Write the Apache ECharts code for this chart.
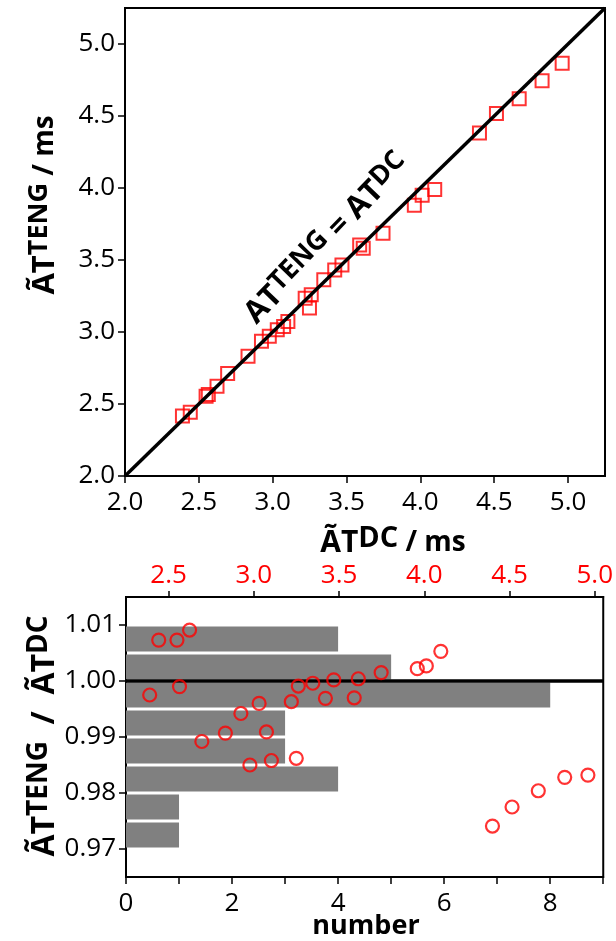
<!DOCTYPE html>
<html>
<head>
<meta charset="utf-8">
<script src="https://cdn.jsdelivr.net/npm/echarts@6/dist/echarts.min.js"></script>
<style>
  html, body { margin: 0; padding: 0; background: #fff; }
  #chart { width: 616px; height: 941px; }
</style>
</head>
<body>
<div id="chart"></div>
<script>
// Decay times from the DC reference measurement (ms)
const dcValues = [2.389, 2.442, 2.549, 2.564, 2.623, 2.695, 2.833, 2.924, 2.977, 3.031,
                  3.074, 3.103, 3.220, 3.249, 3.261, 3.346, 3.420, 3.469, 3.589, 3.613,
                  3.747, 3.959, 4.012, 4.097, 4.400, 4.515, 4.669, 4.824, 4.960];
// Decay times from the TENG measurement (ms)
const tengValues = [2.416, 2.443, 2.554, 2.566, 2.623, 2.711, 2.831, 2.935, 2.970, 3.016,
                    3.039, 3.073, 3.235, 3.166, 3.258, 3.362, 3.430, 3.466, 3.605, 3.582,
                    3.686, 3.880, 3.950, 3.990, 4.382, 4.517, 4.620, 4.745, 4.867];
// Ratio TENG / DC for each sample
const ratioValues = [0.9975, 1.0073, 1.0073, 0.9990, 1.0091, 0.9892, 0.9907, 0.9942, 0.9850, 0.9960,
                     0.9909, 0.9858, 0.9963, 0.9862, 0.9991, 0.9996, 0.9969, 1.0002, 0.9970, 1.0004,
                     1.0015, 1.0022, 1.0027, 1.0053, 0.9741, 0.9775, 0.9804, 0.9828, 0.9832];
// Histogram of the ratio
const binCenters = [1.0075, 1.0025, 0.9975, 0.9925, 0.9875, 0.9825, 0.9775, 0.9725];
const binCounts = [4, 5, 8, 3, 3, 4, 1, 1];
// Identity line ends and unity ratio line
const identityEnds = [2.0, 5.25];
const unityRatio = 1.0;
const unityCountEnds = [0, 9];
// Tick values
const msTicks = [2.0, 2.5, 3.0, 3.5, 4.0, 4.5, 5.0];
const dcTopTicks = [2.5, 3.0, 3.5, 4.0, 4.5, 5.0];
const ratioTicks = [0.97, 0.98, 0.99, 1.00, 1.01];
const countTicks = [0, 1, 2, 3, 4, 5, 6, 7, 8, 9];
const countLabels = [0, 2, 4, 6, 8];
// Position of the identity-line caption (data units)
const captionPoint = [3.37, 3.645];

const FONT = 'Open Sans';
const RED = '#ff0000';
const BAR_H = 0.0045;

const chart = echarts.init(document.getElementById('chart'), null, { renderer: 'canvas' });

const axisBase = {
  type: 'value',
  axisLine: { show: true, lineStyle: { color: '#000', width: 2 } },
  axisTick: { show: true, inside: false, length: 7, lineStyle: { color: '#000', width: 1.5 } },
  splitLine: { show: false },
  axisLabel: { color: '#000', fontFamily: FONT, fontSize: 26, margin: 10 }
};

function mk(extra) {
  const o = JSON.parse(JSON.stringify(axisBase));
  for (const k in extra) {
    if (typeof extra[k] === 'object' && !Array.isArray(extra[k]) && o[k]) Object.assign(o[k], extra[k]);
    else o[k] = extra[k];
  }
  return o;
}

function rich(main, sup, rest) {
  return {
    a: { fontFamily: FONT, fontWeight: 'bold', fontSize: main, lineHeight: main + 8, color: '#000' },
    s: { fontFamily: FONT, fontWeight: 'bold', fontSize: sup, lineHeight: sup, color: '#000', verticalAlign: 'top' },
    b: { fontFamily: FONT, fontWeight: 'bold', fontSize: rest, lineHeight: main + 8, color: '#000' }
  };
}

const option = {
  animation: false,
  backgroundColor: '#fff',
  grid: [
    { left: 125, top: 8, width: 480, height: 468, show: true, borderColor: '#000', borderWidth: 2 },
    { left: 126, top: 597, width: 479, height: 280, show: true, borderColor: '#000', borderWidth: 2 }
  ],
  xAxis: [
    mk({ gridIndex: 0, min: 2, max: 5.25, position: 'bottom',
         axisTick: { customValues: msTicks },
         axisLabel: { customValues: msTicks, formatter: v => v.toFixed(1), margin: 14 } }),
    mk({ gridIndex: 1, min: 0, max: 9, position: 'bottom',
         axisTick: { customValues: countTicks },
         axisLabel: { customValues: countLabels, formatter: v => String(v), margin: 14 } }),
    mk({ gridIndex: 1, min: 2.25, max: 5.05, position: 'top',
         axisTick: { customValues: dcTopTicks, length: 6 },
         axisLabel: { customValues: dcTopTicks, formatter: v => v.toFixed(1), color: RED, margin: 8 } })
  ],
  yAxis: [
    mk({ gridIndex: 0, min: 2, max: 5.25,
         axisTick: { customValues: msTicks },
         axisLabel: { customValues: msTicks, formatter: v => v.toFixed(1) } }),
    mk({ gridIndex: 1, min: 0.965, max: 1.015,
         axisTick: { customValues: ratioTicks },
         axisLabel: { customValues: ratioTicks, formatter: v => v.toFixed(2) } })
  ],
  series: [
    {
      type: 'scatter', xAxisIndex: 0, yAxisIndex: 0, z: 2,
      symbol: 'rect', symbolSize: 13,
      itemStyle: { color: 'rgba(0,0,0,0)', borderColor: RED, borderWidth: 2 },
      data: dcValues.map((d, i) => [d, tengValues[i]])
    },
    {
      type: 'line', xAxisIndex: 0, yAxisIndex: 0, z: 3,
      symbol: 'none', lineStyle: { color: '#000', width: 3.5 },
      data: identityEnds.map(v => [v, v])
    },
    {
      type: 'scatter', xAxisIndex: 0, yAxisIndex: 0, z: 4,
      symbolSize: 1, itemStyle: { color: '#fff', opacity: 1 },
      label: {
        show: true, position: 'inside', rotate: 46,
        color: '#000', textBorderWidth: 0, opacity: 1,
        formatter: '{a|AT}{s|TENG}{a| = AT}{s|DC}',
        rich: {
          a: { fontFamily: FONT, fontWeight: 'bold', fontSize: 31, lineHeight: 38, color: '#000', textBorderWidth: 0 },
          s: { fontFamily: FONT, fontWeight: 'bold', fontSize: 27, lineHeight: 27, color: '#000', textBorderWidth: 0, verticalAlign: 'top' }
        }
      },
      emphasis: { disabled: true },
      data: [captionPoint]
    },
    {
      type: 'custom', xAxisIndex: 1, yAxisIndex: 1, z: 2,
      encode: { x: 1, y: 0 },
      renderItem: function (params, api) {
        const c = api.value(0), n = api.value(1);
        const p0 = api.coord([0, c + BAR_H / 2]);
        const p1 = api.coord([n, c - BAR_H / 2]);
        return {
          type: 'rect',
          shape: { x: p0[0], y: p0[1], width: p1[0] - p0[0], height: p1[1] - p0[1] },
          style: { fill: '#808080' }
        };
      },
      data: binCenters.map((c, i) => [c, binCounts[i]])
    },
    {
      type: 'line', xAxisIndex: 1, yAxisIndex: 1, z: 3,
      symbol: 'none', lineStyle: { color: '#000', width: 3.5 },
      data: unityCountEnds.map(v => [v, unityRatio])
    },
    {
      type: 'scatter', xAxisIndex: 2, yAxisIndex: 1, z: 4,
      symbol: 'circle', symbolSize: 13,
      itemStyle: { color: 'rgba(0,0,0,0)', borderColor: RED, borderWidth: 2.2 },
      data: dcValues.map((d, i) => [d, ratioValues[i]])
    }
  ],
  graphic: [
    { type: 'text', x: 45, y: 205, rotation: Math.PI / 2,
      style: { text: '{a|ÃT}{s|TENG}{b| / ms}', rich: rich(31, 27, 28), align: 'center', verticalAlign: 'middle' } },
    { type: 'text', x: 393, y: 543,
      style: { text: '{a|ÃT}{s|DC}{b| / ms}', rich: rich(30, 29, 28), align: 'center', verticalAlign: 'middle' } },
    { type: 'text', x: 45, y: 736, rotation: Math.PI / 2,
      style: { text: '{a|ÃT}{s|TENG}{a|  /  ÃT}{s|DC}', rich: rich(32, 28, 28), align: 'center', verticalAlign: 'middle' } },
    { type: 'text', x: 366, y: 926,
      style: { text: 'number', fontFamily: FONT, fontWeight: 'bold', fontSize: 27, fill: '#000', align: 'center', verticalAlign: 'middle' } }
  ]
};

chart.setOption(option);
</script>
</body>
</html>
